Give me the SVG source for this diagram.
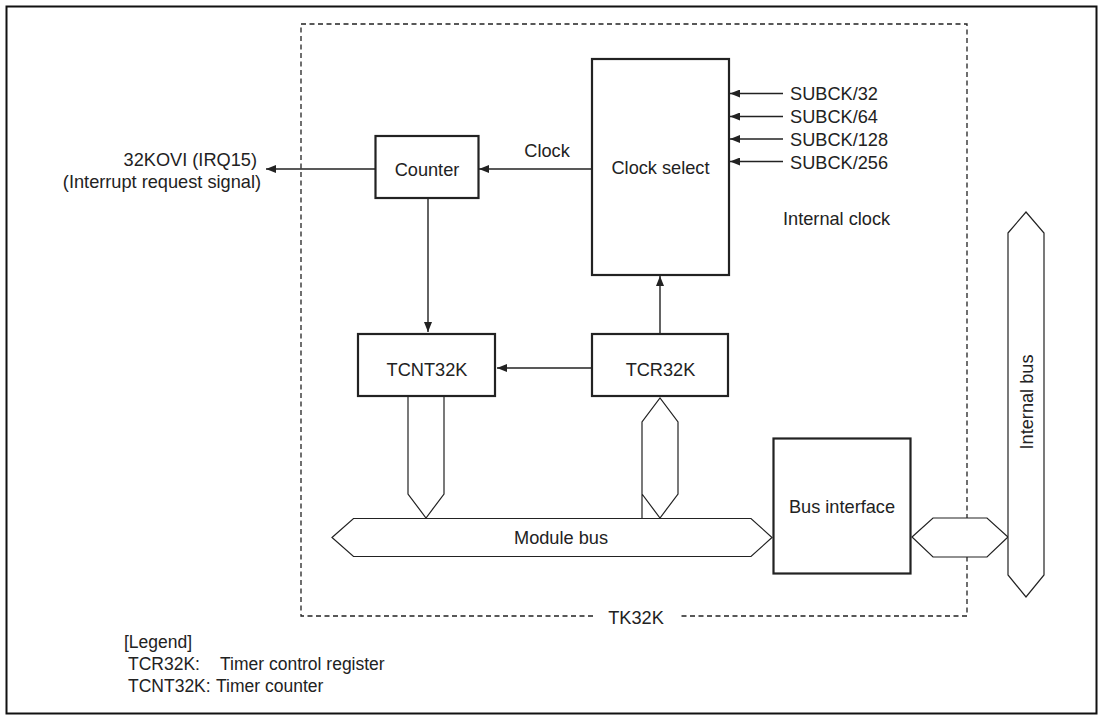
<svg xmlns="http://www.w3.org/2000/svg" width="1103" height="720" viewBox="0 0 1103 720">
<defs>
<style>
text{font-family:"Liberation Sans",Arial,sans-serif;font-size:18.2px;fill:#222}
.box{fill:#fff;stroke:#222;stroke-width:2.2}
.bus{fill:#fff;stroke:#222;stroke-width:1.2;stroke-linejoin:miter}
.ln{fill:none;stroke:#222;stroke-width:1.4}
.dash{fill:none;stroke:#222;stroke-width:1.3;stroke-dasharray:5 3.5}
.c{text-anchor:middle}
.e{text-anchor:end}
.lg{font-size:17.5px}
</style>
<marker id="ah" viewBox="0 0 10 8" refX="10" refY="4" markerWidth="10" markerHeight="8" markerUnits="userSpaceOnUse" orient="auto">
<path d="M0,0 L10,4 L0,8 Z" fill="#222"/>
</marker>
</defs>
<rect x="0" y="0" width="1103" height="720" fill="#fff"/>
<rect x="6.5" y="6.5" width="1090" height="707" fill="none" stroke="#111" stroke-width="2"/>

<g id="tk32k">
<path class="dash" d="M593,616 L301,616 L301,24 L967,24 L967,616 L678,616"/>
<text class="c" x="636" y="624">TK32K</text>
</g>

<g id="connectors">
<line class="ln" x1="375" y1="169" x2="266" y2="169" marker-end="url(#ah)"/>
<line class="ln" x1="592" y1="169" x2="479" y2="169" marker-end="url(#ah)"/>
<line class="ln" x1="428" y1="198" x2="428" y2="332" marker-end="url(#ah)"/>
<line class="ln" x1="592" y1="368" x2="497" y2="368" marker-end="url(#ah)"/>
<line class="ln" x1="660" y1="334" x2="660" y2="276" marker-end="url(#ah)"/>
<line class="ln" x1="783" y1="93.5" x2="730" y2="93.5" marker-end="url(#ah)"/>
<line class="ln" x1="783" y1="116.5" x2="730" y2="116.5" marker-end="url(#ah)"/>
<line class="ln" x1="783" y1="139" x2="730" y2="139" marker-end="url(#ah)"/>
<line class="ln" x1="783" y1="161.5" x2="730" y2="161.5" marker-end="url(#ah)"/>
<path class="bus" d="M408,396 L408,494 L426,518 L444,494 L444,396"/>
<path class="bus" d="M642,518 L642,422 L660,398 L678,422 L678,494 L660,518 L642,494 Z"/>
<path class="bus" d="M912,537 L933,518 L987,518 L1008,537 L987,557 L933,557 Z"/>
</g>

<g id="labels">
<text class="e" x="257" y="166">32KOVI (IRQ15)</text>
<text class="e" x="261" y="188">(Interrupt request signal)</text>
<text class="c" x="547" y="157">Clock</text>
<text x="790" y="100">SUBCK/32</text>
<text x="790" y="123">SUBCK/64</text>
<text x="790" y="146">SUBCK/128</text>
<text x="790" y="168.5">SUBCK/256</text>
<text x="783" y="225">Internal clock</text>
</g>

<g id="counter">
<rect class="box" x="375.5" y="136" width="103" height="62"/>
<text class="c" x="427" y="176">Counter</text>
</g>

<g id="clock-select">
<rect class="box" x="592" y="59" width="137" height="216"/>
<text class="c" x="660.5" y="174">Clock select</text>
</g>

<g id="tcnt32k">
<rect class="box" x="358" y="334" width="137" height="62"/>
<text class="c" x="427" y="376">TCNT32K</text>
</g>

<g id="tcr32k">
<rect class="box" x="592" y="334" width="136" height="62"/>
<text class="c" x="660.5" y="376">TCR32K</text>
</g>

<g id="module-bus">
<path class="bus" d="M332,537.5 L353.5,518.5 L751,518.5 L772,537.5 L751,556.5 L353.5,556.5 Z"/>
<text class="c" x="561" y="544">Module bus</text>
</g>

<g id="bus-interface">
<rect class="box" x="773.5" y="438.5" width="137" height="135"/>
<text class="c" x="842" y="513">Bus interface</text>
</g>

<g id="internal-bus">
<path class="bus" d="M1008,233 L1026,212 L1044,233 L1044,575 L1026,597 L1008,575 Z"/>
<text class="c" transform="translate(1033,402) rotate(-90)">Internal bus</text>
</g>

<g id="legend">
<text class="lg" x="124" y="648">[Legend]</text>
<text class="lg" x="128" y="670">TCR32K:</text>
<text class="lg" x="220" y="670">Timer control register</text>
<text class="lg" x="128" y="692">TCNT32K:</text>
<text class="lg" x="216" y="692">Timer counter</text>
</g>
</svg>
